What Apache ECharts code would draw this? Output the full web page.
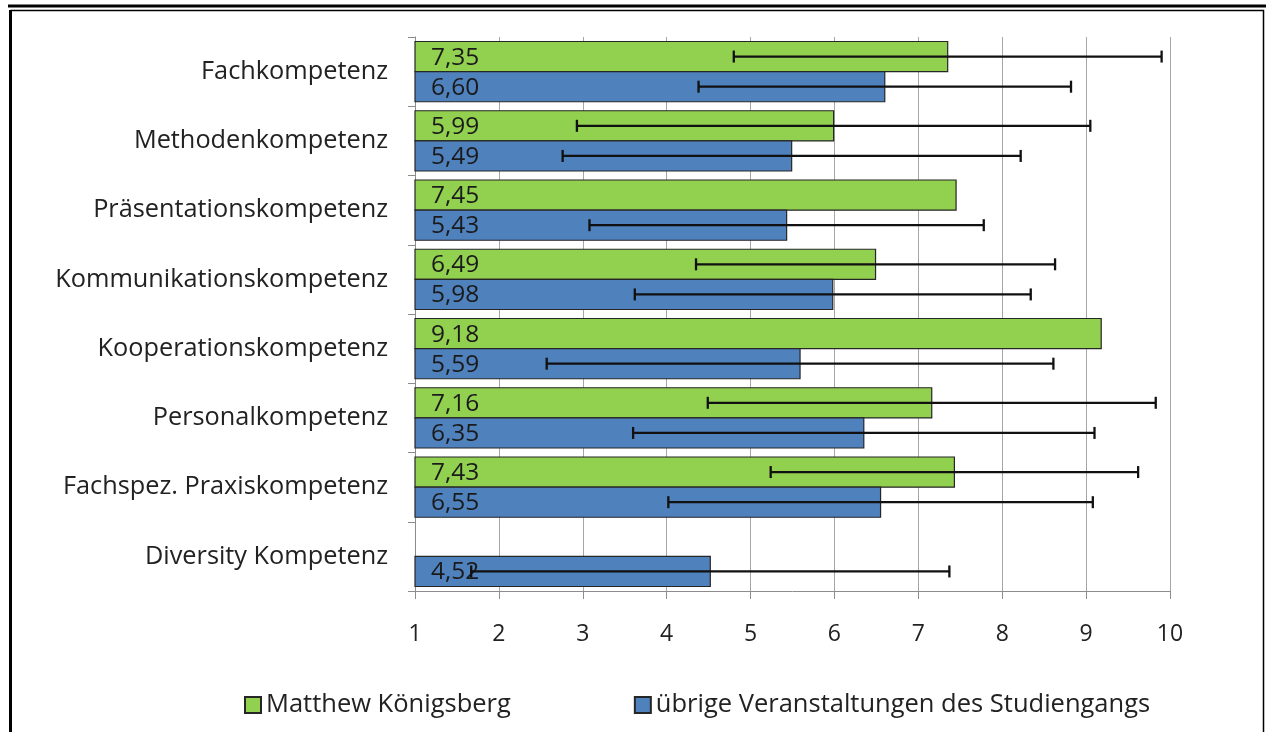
<!DOCTYPE html>
<html>
<head>
<meta charset="utf-8">
<script src="https://cdn.jsdelivr.net/npm/echarts@6/dist/echarts.min.js"></script>
<style>
  html, body { margin: 0; padding: 0; background: #fff; }
  #main { width: 1266px; height: 732px; }
</style>
</head>
<body>
<div id="main"></div>
<script>
// Kategorien (von oben nach unten)
var categories = [
  "Fachkompetenz",
  "Methodenkompetenz",
  "Präsentationskompetenz",
  "Kommunikationskompetenz",
  "Kooperationskompetenz",
  "Personalkompetenz",
  "Fachspez. Praxiskompetenz",
  "Diversity Kompetenz"
];
var seriesNames = ["Matthew Königsberg", "übrige Veranstaltungen des Studiengangs"];
// Mittelwerte und Standardabweichungen (null = kein Wert)
var mkValues = [7.35, 5.99, 7.45, 6.49, 9.18, 7.16, 7.43, null];
var mkErrors = [2.55, 3.06, null, 2.14, null, 2.67, 2.19, null];
var otherValues = [6.60, 5.49, 5.43, 5.98, 5.59, 6.35, 6.55, 4.52];
var otherErrors = [2.22, 2.73, 2.35, 2.36, 3.02, 2.75, 2.53, 2.85];
var tickValues = [1, 2, 3, 4, 5, 6, 7, 8, 9, 10];

var FONT = '"Open Sans", "Noto Sans", sans-serif';
var axisMin = tickValues[0];
var axisMax = tickValues[tickValues.length - 1];

function toData(values, errors) {
  var out = [];
  values.forEach(function (v, i) {
    if (v != null) out.push([v, i, errors[i] == null ? -1 : errors[i]]);
  });
  return out;
}

function makeRender(upper, color) {
  return function (params, api) {
    var val = api.value(0), cat = api.value(1), err = api.value(2);
    var base = api.coord([axisMin, cat]);
    var end = api.coord([val, cat]);
    var band = api.size([0, 1])[1];
    var thick = band * 0.435;
    var top = upper ? base[1] - thick : base[1];
    var cy = top + thick / 2;
    var children = [
      {
        type: "rect",
        shape: { x: base[0], y: top, width: end[0] - base[0], height: thick },
        style: { fill: color, stroke: "#262626", lineWidth: 1.2 }
      },
      {
        type: "text",
        style: {
          text: val.toFixed(2).replace(".", ","),
          x: base[0] + 16, y: cy + 1,
          verticalAlign: "middle", align: "left",
          fill: "#1a1a1a",
          font: '24.5px ' + FONT
        }
      }
    ];
    if (err > 0) {
      var lo = api.coord([val - err, cat])[0];
      var hi = api.coord([val + err, cat])[0];
      var cap = 6;
      var ls = { stroke: "#111", lineWidth: 2.3 };
      children.push(
        { type: "line", shape: { x1: lo, y1: cy, x2: hi, y2: cy }, style: ls },
        { type: "line", shape: { x1: lo, y1: cy - cap, x2: lo, y2: cy + cap }, style: ls },
        { type: "line", shape: { x1: hi, y1: cy - cap, x2: hi, y2: cy + cap }, style: ls }
      );
    }
    return { type: "group", children: children };
  };
}

var myChart = echarts.init(document.getElementById("main"));
myChart.setOption({
  backgroundColor: "#fff",
  animation: false,
  grid: { left: 415, right: 96, top: 37, bottom: 141 },
  legend: {
    left: 244,
    top: 692,
    padding: 0,
    icon: "rect",
    itemWidth: 16,
    itemHeight: 16,
    itemGap: 123,
    data: seriesNames,
    textStyle: { fontFamily: FONT, fontSize: 25.5, color: "#222", padding: [0, 0, 0, 0] }
  },
  xAxis: {
    type: "value",
    min: axisMin,
    max: axisMax,
    interval: 1,
    axisLine: { show: true, lineStyle: { color: "#8c8c8c", width: 1 } },
    axisTick: { show: true, length: 8, lineStyle: { color: "#8c8c8c" } },
    splitLine: { show: true, lineStyle: { color: "#a6a6a6", width: 1 } },
    axisLabel: { fontFamily: FONT, fontSize: 23, color: "#222", margin: 32 }
  },
  yAxis: {
    type: "category",
    inverse: true,
    data: categories,
    axisLine: { show: true, lineStyle: { color: "#8c8c8c" } },
    axisTick: { show: true, length: 7, lineStyle: { color: "#8c8c8c" } },
    splitLine: { show: false },
    axisLabel: { fontFamily: FONT, fontSize: 25.3, color: "#222", margin: 27 }
  },
  series: [
    {
      name: seriesNames[0],
      type: "custom",
      itemStyle: { color: "#92d050", borderColor: "#262626", borderWidth: 1 },
      encode: { x: 0, y: 1 },
      renderItem: makeRender(true, "#92d050"),
      data: toData(mkValues, mkErrors)
    },
    {
      name: seriesNames[1],
      type: "custom",
      itemStyle: { color: "#4f81bd", borderColor: "#262626", borderWidth: 1 },
      encode: { x: 0, y: 1 },
      renderItem: makeRender(false, "#4f81bd"),
      data: toData(otherValues, otherErrors)
    }
  ],
  graphic: [
    { type: "line", shape: { x1: 8, y1: 6, x2: 1266, y2: 6 }, style: { stroke: "#000", lineWidth: 3 } },
    { type: "rect", shape: { x: 11, y: 10.5, width: 1252.5, height: 740 }, style: { fill: null, stroke: "#000", lineWidth: 1.5 } },
    { type: "line", shape: { x1: 10.5, y1: 10, x2: 10.5, y2: 732 }, style: { stroke: "#000", lineWidth: 3 } }
  ]
});
</script>
</body>
</html>
